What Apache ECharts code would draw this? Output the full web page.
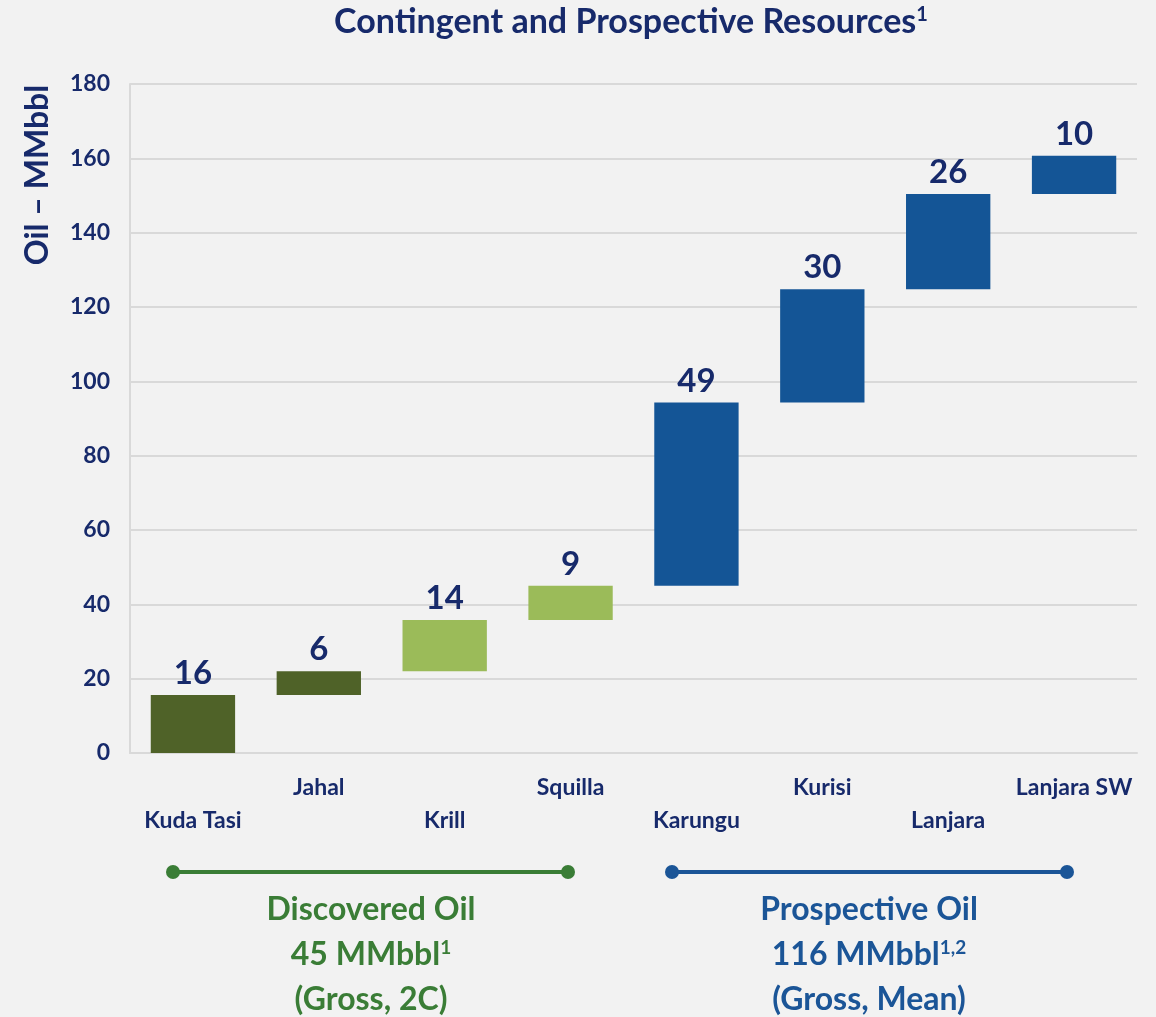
<!DOCTYPE html>
<html><head><meta charset="utf-8">
<script src="https://cdn.jsdelivr.net/npm/echarts@6/dist/echarts.min.js"></script>
<style>html,body{margin:0;padding:0;background:#f2f2f2}#c{width:1156px;height:1017px}</style>
</head><body><div id="c"></div>
<script>
const categories = ['Kuda Tasi','Jahal','Krill','Squilla','Karungu','Kurisi','Lanjara','Lanjara SW'];
const bases = [0, 15.6, 22.0, 35.8, 45.0, 94.3, 124.8, 150.4];
const values = [15.6, 6.4, 13.8, 9.2, 49.3, 30.5, 25.6, 10.3];
const valueLabels = ['16','6','14','9','49','30','26','10'];
const barColors = ['#4f6228','#4f6228','#9bbb59','#9bbb59','#145596','#145596','#145596','#145596'];
const yTicks = [0,20,40,60,80,100,120,140,160,180];

const NAVY = '#172a6b';
const FONT = 'Lato, "Open Sans", sans-serif';
const chart = echarts.init(document.getElementById('c'));
chart.setOption({
  backgroundColor: '#f2f2f2',
  animation: false,
  grid: {left: 130, right: 19, top: 84, bottom: 264},
  xAxis: {
    type: 'category', data: categories,
    axisLine: {show: true, lineStyle: {color: '#d9d9d9', width: 2}},
    axisTick: {show: false},
    axisLabel: {
      interval: 0, margin: 18, color: NAVY, fontFamily: FONT, fontWeight: 'bold', fontSize: 23, lineHeight: 33,
      formatter: (v, i) => (i % 2 === 0 ? '\n' + v : v)
    }
  },
  yAxis: {
    type: 'value', min: yTicks[0], max: yTicks[yTicks.length-1], interval: 20,
    axisLine: {show: true, lineStyle: {color: '#d9d9d9', width: 2}},
    axisTick: {show: false},
    splitLine: {lineStyle: {color: '#d9d9d9', width: 2}},
    axisLabel: {margin: 20, color: NAVY, fontFamily: FONT, fontWeight: 'bold', fontSize: 23}
  },
  series: [
    {type: 'bar', stack: 'w', data: bases, itemStyle: {color: 'transparent'}, barWidth: '67%', silent: true},
    {type: 'bar', stack: 'w', barWidth: '67%',
     data: values.map((v, i) => ({value: v, itemStyle: {color: barColors[i]}})),
     label: {show: true, position: 'top', distance: 5, color: NAVY, fontFamily: FONT, fontWeight: 'bold', fontSize: 33,
       formatter: p => valueLabels[p.dataIndex]}}
  ],
  graphic: [
    {type: 'text', x: 631, y: 5, style: {
      text: '{t|Contingent and Prospective Resources}{s|1}', align: 'center',
      rich: {t: {fontSize: 34, fontWeight: 'bold', fontFamily: FONT, fill: NAVY, verticalAlign: 'bottom'},
             s: {fontSize: 20, fontWeight: 'bold', fontFamily: FONT, fill: NAVY, verticalAlign: 'top', padding: [0,0,13,0]}}}},
    {type: 'text', x: 38, y: 175, rotation: Math.PI/2, style: {
      text: 'Oil – MMbbl', fontSize: 32, fontWeight: 'bold', fontFamily: FONT, fill: NAVY,
      align: 'center', verticalAlign: 'middle'}},
    // discovered bracket
    {type: 'line', shape: {x1: 173, y1: 872, x2: 568, y2: 872}, style: {stroke: '#3a7d36', lineWidth: 4}},
    {type: 'circle', shape: {cx: 173, cy: 872, r: 7}, style: {fill: '#3a7d36'}},
    {type: 'circle', shape: {cx: 568, cy: 872, r: 7}, style: {fill: '#3a7d36'}},
    {type: 'text', x: 371, y: 887, style: {
      text: '{a|Discovered Oil}\n{a|45 MMbbl}{s|1}\n{a|(Gross, 2C)}', align: 'center', lineHeight: 45,
      rich: {a: {fontSize: 32, fontWeight: 'bold', fontFamily: FONT, fill: '#3a7d36', lineHeight: 45},
             s: {fontSize: 19, fontWeight: 'bold', fontFamily: FONT, fill: '#3a7d36', lineHeight: 45, padding: [0,0,14,0]}}}},
    // prospective bracket
    {type: 'line', shape: {x1: 672, y1: 872, x2: 1067, y2: 872}, style: {stroke: '#1b5597', lineWidth: 4}},
    {type: 'circle', shape: {cx: 672, cy: 872, r: 7}, style: {fill: '#1b5597'}},
    {type: 'circle', shape: {cx: 1067, cy: 872, r: 7}, style: {fill: '#1b5597'}},
    {type: 'text', x: 869, y: 887, style: {
      text: '{a|Prospective Oil}\n{a|116 MMbbl}{s|1,2}\n{a|(Gross, Mean)}', align: 'center', lineHeight: 45,
      rich: {a: {fontSize: 32, fontWeight: 'bold', fontFamily: FONT, fill: '#1b5597', lineHeight: 45},
             s: {fontSize: 19, fontWeight: 'bold', fontFamily: FONT, fill: '#1b5597', lineHeight: 45, padding: [0,0,14,0]}}}}
  ]
});
</script></body></html>
